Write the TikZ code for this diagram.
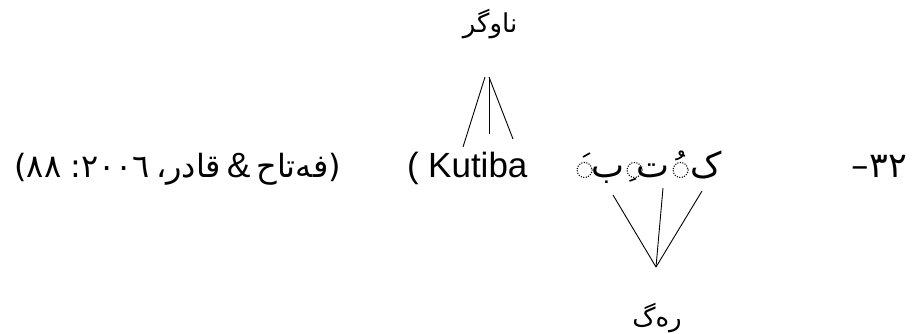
\documentclass[tikz,border=0pt]{standalone}
\usepackage{fontspec}
\usetikzlibrary{calc}
\setmainfont{Liberation Sans}
\newfontfamily\arabicfont[Script=Arabic]{DejaVu Sans}
\TeXXeTstate=1
\tikzset{
  mainline/.style={inner sep=0pt, font=\fontsize{35}{40}\selectfont},
  citation/.style={inner sep=0pt, font=\fontsize{32}{38}\selectfont},
  letter/.style={inner sep=0pt, font=\arabicfont\fontsize{35}{40}\selectfont},
  lbl/.style={inner sep=0pt, font=\fontsize{26}{30}\selectfont},
  branch/.style={line width=0.9pt, black},
  holder/.style={line width=1.5pt, dash pattern=on 0pt off 2.5pt, line cap=round, black},
  haraka/.style={line width=1.6pt, black},
}
\begin{document}
\begin{tikzpicture}[x=1pt,y=-1pt]
\useasboundingbox (0,0) rectangle (918,333);
% example number
\node[mainline, anchor=base east] (num) at (907,177) {\arabicfont\beginR ٣٢–\endR};
% the Kurdish word: letters, vowel holders and vowel signs
\node[letter, anchor=base east] (kaf) at (722,177) {ک};
\node[letter, anchor=base east] (teh) at (670,177) {ت};
\node[letter, anchor=base east] (beh) at (625,177) {ب};
\coordinate (h1) at (680.5,170);
\coordinate (h2) at (634.5,170);
\coordinate (h3) at (584.5,170);
\draw[holder] (h1) circle (7.5);
\draw[holder] (h2) circle (7.5);
\draw[holder] (h3) circle (7.5);
\node[letter, anchor=base] (damma) at (680.5,181) {ﹸ};
\draw[haraka] ($(h2)+(-5,11)$) -- ($(h2)+(1.5,8.5)$);
\draw[haraka] ($(h3)+(-1.5,-13)$) -- ($(h3)+(5.5,-17)$);
% transliteration
\node[mainline, anchor=base west] (paren) at (407,177) {(};
\node[mainline, anchor=base west] (latin) at (428,177) {Kutiba};
% source reference
\node[citation, anchor=base east] (cite) at (341,177)
  {\arabicfont\spaceskip=6pt\beginR (فەتاح {\rmfamily\fontsize{35}{40}\selectfont\&} قادر، ٢٠٠٦: ٨٨)\endR};
% labels above and below
\node[lbl, anchor=base] (stem) at (490,32) {\arabicfont\beginR ناوگر\endR};
\node[lbl, anchor=base] (root) at (657,326) {\arabicfont\beginR رەگ\endR};
% branching lines
\coordinate (upA) at (485,77);
\coordinate (upB) at (489,77);
\coordinate (uL) at (463,147);
\coordinate (uM) at (489,134);
\coordinate (uR) at (513,139);
\draw[branch] (upA) -- (uL);
\draw[branch] (upB) -- (uM);
\draw[branch] (upB) -- (uR);
\coordinate (lowA) at (656,267);
\coordinate (lL) at (613,195);
\coordinate (lM) at (663,188);
\coordinate (lR) at (702,191);
\draw[branch] (lL) -- (lowA);
\draw[branch] (lM) -- (lowA);
\draw[branch] (lR) -- (lowA);
\end{tikzpicture}
\end{document}
